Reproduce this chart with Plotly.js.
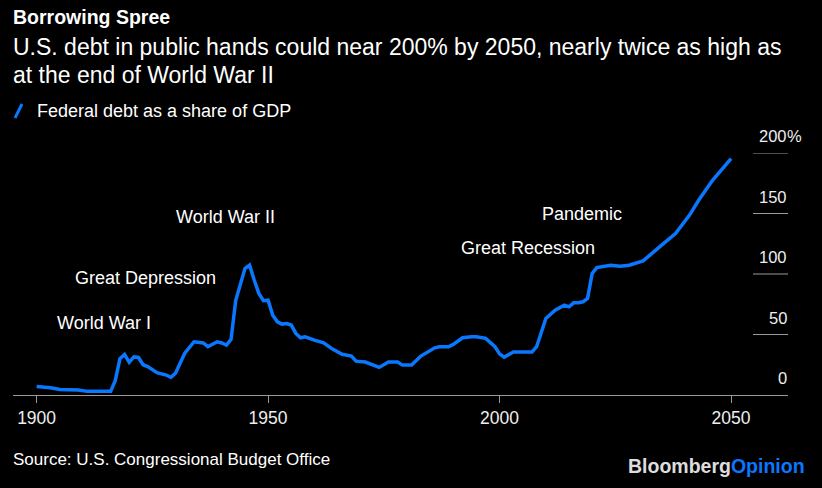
<!DOCTYPE html>
<html>
<head>
<meta charset="utf-8">
<script src="https://cdn.plot.ly/plotly-3.0.1.min.js"></script>
<style>
html,body{margin:0;padding:0;background:#000;}
#chart{width:822px;height:488px;}
</style>
</head>
<body>
<div id="chart"></div>
<script>
// ---- data ----
const years = [1900,1903,1905,1909,1911,1915,1916,1917,1918,1919,1920,1921,1922,1923,1924,1926,1928,1929,1930,1932,1934,1936,1937,1938,1939,1940,1941,1942,1943,1945,1946,1947,1948,1949,1950,1951,1952,1953,1954,1955,1956,1957,1958,1960,1962,1964,1966,1968,1969,1971,1972,1974,1976,1978,1979,1981,1983,1984,1986,1987,1989,1990,1992,1994,1995,1997,1999,2000,2001,2003,2004,2007,2008,2009,2010,2012,2014,2015,2016,2017,2018,2019,2020,2021,2024,2026,2028,2031,2033,2035,2038,2041,2043,2046,2050];
const debtShare = [7,6,4.5,4.2,3,3,3,12,30,33.5,27,31.5,31,25,23.5,18.5,16.5,14.6,18,34.5,44,43,40,42,44,43,41.3,46,78,104.5,107.3,95,84,78,78.4,66,60.5,58.6,59,57.8,50.9,47.3,48.1,45.4,43.2,37.7,33.6,32.2,28,27.2,25.6,22.8,27.2,27.2,24.7,24.7,32.2,34.4,39,39.9,39.9,41.8,47.3,48.1,48.1,46.8,39.9,34,31.3,35.5,35.5,35.5,39.9,52.3,63.3,70.1,74.3,72.9,76.2,76.2,77,79.8,100.4,105.3,107.3,106.4,107.3,110.8,116.9,123.8,133.4,148.5,160.9,177.4,195.3];
const xTickVals = [1900,1950,2000,2050];
const yTickVals = [0,50,100,150,200];
const yTickText = ['0','50','100','150','200'];
const eventLabels = ['World War I','Great Depression','World War II','Great Recession','Pandemic'];
const eventYears = [1904.0,1907.9,1929.7,1991.2,2008.7];
const eventLevels = [59.7,96.5,146.9,121.7,149.5];

const W = 822, H = 488;
const M = {l:13, r:34, t:153, b:93};
const pw = W - M.l - M.r, ph = H - M.t - M.b;
const px = x => (x - M.l) / pw;
const py = y => (H - M.b - y) / ph;

const FONT = 'Liberation Sans, Arial, sans-serif';
const BLUE = '#0a77ff';

const annotations = [];
// header
annotations.push({xref:'paper', yref:'paper', x:px(11), y:py(17), xanchor:'left', yanchor:'middle', showarrow:false,
  text:'<b>Borrowing Spree</b>', font:{family:FONT, size:19.5, color:'#ffffff'}});
annotations.push({xref:'paper', yref:'paper', x:px(11), y:py(47), xanchor:'left', yanchor:'middle', showarrow:false,
  text:'U.S. debt in public hands could near 200% by 2050, nearly twice as high as', font:{family:FONT, size:23, color:'#ffffff'}});
annotations.push({xref:'paper', yref:'paper', x:px(11), y:py(75), xanchor:'left', yanchor:'middle', showarrow:false,
  text:'at the end of World War II', font:{family:FONT, size:23, color:'#ffffff'}});
annotations.push({xref:'paper', yref:'paper', x:px(35), y:py(111), xanchor:'left', yanchor:'middle', showarrow:false,
  text:'Federal debt as a share of GDP', font:{family:FONT, size:18, color:'#ffffff'}});
// footer
annotations.push({xref:'paper', yref:'paper', x:px(11), y:py(459), xanchor:'left', yanchor:'middle', showarrow:false,
  text:'Source: U.S. Congressional Budget Office', font:{family:FONT, size:17, color:'#ffffff'}});
annotations.push({xref:'paper', yref:'paper', x:px(807), y:py(466), xanchor:'right', yanchor:'middle', showarrow:false,
  text:'<b><span style="color:#dddddd">Bloomberg</span><span style="color:'+BLUE+'">Opinion</span></b>', font:{family:FONT, size:19.5, color:'#dddddd'}});
// y tick labels above the short gridlines
yTickVals.forEach((v,i)=>{
  annotations.push({xref:'paper', yref:'y', x:1, y:v, xanchor:'right', yanchor:'middle', yshift:17, xshift:1, showarrow:false,
    text:yTickText[i], font:{family:FONT, size:16.5, color:'#eeeeee'}});
});
annotations.push({xref:'paper', yref:'y', x:1, y:yTickVals[yTickVals.length-1], xanchor:'left', yanchor:'middle', yshift:17, xshift:-3, showarrow:false,
  text:'%', font:{family:FONT, size:16.5, color:'#eeeeee'}});
// event labels
eventLabels.forEach((t,i)=>{
  annotations.push({xref:'x', yref:'y', x:eventYears[i], y:eventLevels[i], xanchor:'left', yanchor:'middle', showarrow:false,
    text:t, font:{family:FONT, size:18, color:'#ffffff'}});
});

const shapes = [];
yTickVals.slice(1).forEach(v=>{
  shapes.push({type:'line', xref:'paper', yref:'y', x0:px(753), x1:1, y0:v, y1:v, line:{color:'#9a9a9a', width:1}});
});
// legend slash
shapes.push({type:'line', xref:'paper', yref:'paper', x0:px(15), y0:py(118), x1:px(22), y1:py(104), line:{color:BLUE, width:3}});

const trace = {x:years, y:debtShare, type:'scatter', mode:'lines',
  line:{color:BLUE, width:3.5, shape:'linear'}, hoverinfo:'skip', cliponaxis:false};

const layout = {
  width:W, height:H, margin:M,
  paper_bgcolor:'#000', plot_bgcolor:'#000',
  showlegend:false,
  xaxis:{range:[1894.9,2062.3], tickvals:xTickVals, ticks:'outside', ticklen:7, tickcolor:'#9a9a9a', tickwidth:1,
    showline:true, linecolor:'#9a9a9a', linewidth:1, showgrid:false, zeroline:false,
    tickfont:{family:FONT, size:17.5, color:'#eeeeee'}},
  yaxis:{range:[0,200], showticklabels:false, showgrid:false, zeroline:false, showline:false, ticks:''},
  annotations:annotations, shapes:shapes
};
Plotly.newPlot('chart',[trace],layout,{displayModeBar:false, staticPlot:true});
</script>
</body>
</html>
